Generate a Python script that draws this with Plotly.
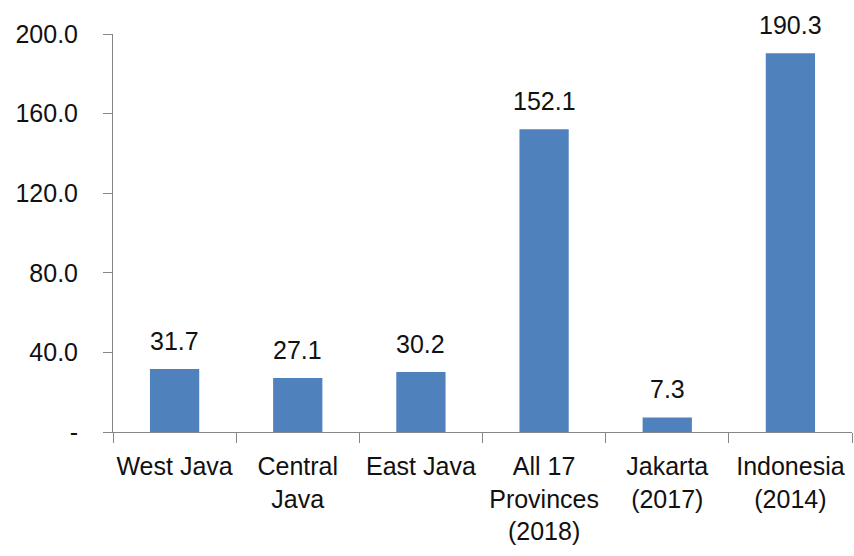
import plotly.graph_objects as go

# Categories and values
categories = ["West Java", "Central<br>Java", "East Java", "All 17<br>Provinces<br>(2018)",
              "Jakarta<br>(2017)", "Indonesia<br>(2014)"]
values = [31.7, 27.1, 30.2, 152.1, 7.3, 190.3]
ytick_vals = [0, 40, 80, 120, 160, 200]
ytick_text = ["-", "40.0", "80.0", "120.0", "160.0", "200.0"]

FONT = "Liberation Sans, Arial, sans-serif"
FONT_SIZE = 25
TEXT_COLOR = "#111111"
AXIS_COLOR = "#868686"

fig = go.Figure(
    go.Bar(
        x=categories,
        y=values,
        marker=dict(color="#4F81BD", line=dict(width=0)),
        cliponaxis=False,
    )
)

# value labels above each bar
for cat, val in zip(categories, values):
    fig.add_annotation(
        x=cat, y=val, text=f"{val:.1f}",
        showarrow=False, yanchor="bottom", yshift=12,
        font=dict(family=FONT, size=FONT_SIZE, color=TEXT_COLOR),
    )

fig.update_layout(
    width=854,
    height=556,
    margin=dict(l=113, r=2, t=34, b=124),
    paper_bgcolor="white",
    plot_bgcolor="white",
    bargap=0.6,
    showlegend=False,
    font=dict(family=FONT, size=FONT_SIZE, color=TEXT_COLOR),
)

fig.update_xaxes(
    showline=True,
    linecolor=AXIS_COLOR,
    linewidth=1,
    ticks="outside",
    tickson="boundaries",
    ticklen=10,
    tickcolor=AXIS_COLOR,
    showgrid=False,
    tickangle=0,
    automargin=False,
    ticklabelstandoff=12,
    tickfont=dict(family=FONT, size=FONT_SIZE, color=TEXT_COLOR),
)

fig.update_yaxes(
    range=[0, 200],
    tickvals=ytick_vals,
    ticktext=ytick_text,
    showline=True,
    linecolor=AXIS_COLOR,
    linewidth=1,
    ticks="outside",
    ticklen=9,
    tickcolor=AXIS_COLOR,
    showgrid=False,
    zeroline=False,
    automargin=False,
    ticklabelstandoff=20,
    tickfont=dict(family=FONT, size=FONT_SIZE, color=TEXT_COLOR),
)

fig.write_html("out.html")
